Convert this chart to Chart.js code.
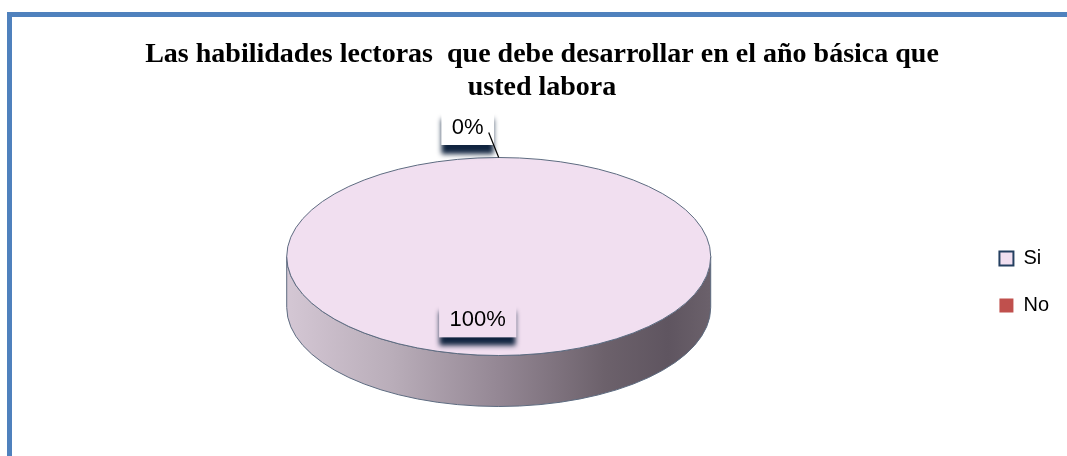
<!DOCTYPE html>
<html><head><meta charset="utf-8">
<script src="https://cdn.jsdelivr.net/npm/chart.js@4.4.0/dist/chart.umd.min.js"></script>
<style>
html,body{margin:0;padding:0;background:#fff;overflow:hidden;}
#wrap{position:relative;width:1067px;height:456px;overflow:hidden;background:#fff;}
#frame{position:absolute;left:7px;top:12px;width:1100px;height:520px;border:5px solid #4f81bd;box-sizing:border-box;}
canvas{position:absolute;left:0;top:0;}
</style></head><body>
<div id="wrap"><div id="frame"></div><canvas id="c" width="1067" height="456"></canvas></div>
<script>
// ---- data ----
const titleLines = ['Las habilidades lectoras  que debe desarrollar en el año básica que', 'usted labora'];
const categories = ['Si', 'No'];
const values = [100, 0];
const sliceColors = ['#f1dff0', '#c0504d'];
const legendBorders = ['#243f60', 'rgba(0,0,0,0)'];
const legendBorderWidths = [2, 0];

const total = values.reduce((a, b) => a + b, 0);
const percentLabels = values.map(v => Math.round(v / total * 100) + '%');

const pie3d = {
  id: 'pie3d',
  beforeDatasetsDraw(chart, args, o) {
    const arc = chart.getDatasetMeta(0).data[0];
    const p = arc.getProps(['x', 'y', 'outerRadius'], true);
    const cx = p.x, cy = p.y, R = p.outerRadius;
    const ry = R * o.tilt, top = cy - o.depth / 2;
    const ctx = chart.ctx;
    ctx.save();
    const g = ctx.createLinearGradient(cx - R, 0, cx + R, 0);
    o.sideStops.forEach(s => g.addColorStop(s[0], s[1]));
    ctx.beginPath();
    ctx.moveTo(cx - R, top);
    ctx.lineTo(cx - R, top + o.depth);
    ctx.ellipse(cx, top + o.depth, R, ry, 0, Math.PI, 0, true);
    ctx.lineTo(cx + R, top);
    ctx.ellipse(cx, top, R, ry, 0, 0, Math.PI, false);
    ctx.closePath();
    ctx.fillStyle = g;
    ctx.fill();
    ctx.lineWidth = 1;
    ctx.strokeStyle = o.edgeColor;
    ctx.stroke();
    ctx.restore();
    ctx.save();
    ctx.translate(cx, top);
    ctx.scale(1, o.tilt);
    ctx.translate(-cx, -cy);
  },
  afterDatasetsDraw(chart, args, o) {
    const ctx = chart.ctx;
    ctx.restore();
    const arcs = chart.getDatasetMeta(0).data;
    const p0 = arcs[0].getProps(['x', 'y', 'outerRadius'], true);
    const cx = p0.x, R = p0.outerRadius, ry = R * o.tilt, top = p0.y - o.depth / 2;
    // top face outline
    ctx.save();
    ctx.beginPath();
    ctx.ellipse(cx, top, R, ry, 0, 0, Math.PI * 2);
    ctx.lineWidth = 1;
    ctx.strokeStyle = o.edgeColor;
    ctx.stroke();
    ctx.restore();
    // labels
    ctx.save();
    ctx.font = o.labelFont;
    ctx.textAlign = 'center';
    ctx.textBaseline = 'middle';
    arcs.forEach((arc, i) => {
      const p = arc.getProps(['startAngle', 'endAngle'], true);
      const mid = (p.startAngle + p.endAngle) / 2;
      const text = percentLabels[i];
      const tw = ctx.measureText(text).width;
      const w = tw + o.boxPadX * 2, h = o.boxH;
      let lx, ly, fill, ex, ey, outside = (p.endAngle - p.startAngle) < 1e-6;
      if (outside) {
        ex = cx + Math.cos(mid) * R;
        ey = top + Math.sin(mid) * ry;
        lx = ex + o.outDx; ly = ey + o.outDy;
        fill = '#ffffff';
      } else {
        lx = cx + Math.cos(mid) * R * o.inFrac + o.inDx;
        ly = top + Math.sin(mid) * ry * o.inFrac;
        fill = sliceColors[i];
      }
      ctx.save();
      ctx.shadowColor = o.shadowColor;
      ctx.shadowBlur = 5;
      ctx.shadowOffsetY = 9;
      ctx.fillStyle = fill;
      ctx.fillRect(lx - w / 2, ly - h / 2, w, h);
      ctx.restore();
      ctx.fillStyle = '#000';
      ctx.fillText(text, lx, ly);
      if (outside) {
        ctx.beginPath();
        ctx.moveTo(ex + o.leadDx, ey + o.leadDy);
        ctx.lineTo(ex, ey);
        ctx.lineWidth = 1.2;
        ctx.strokeStyle = '#000';
        ctx.stroke();
      }
    });
    ctx.restore();
  }
};

new Chart(document.getElementById('c'), {
  type: 'pie',
  data: {
    labels: categories,
    datasets: [{
      data: values,
      backgroundColor: sliceColors,
      borderWidth: 0,
      radius: 212,
      clip: false
    }]
  },
  options: {
    responsive: false,
    devicePixelRatio: 1,
    animation: false,
    events: [],
    layout: { padding: { top: 25, left: 25, right: 8, bottom: 0 } },
    plugins: {
      tooltip: { enabled: false },
      title: {
        display: true,
        text: titleLines,
        color: '#000',
        font: { family: '"Liberation Serif", "Times New Roman", serif', size: 28, weight: 'bold', lineHeight: 33 / 28 },
        padding: { top: 13, bottom: 4 }
      },
      legend: {
        position: 'right',
        align: 'center',
        fullSize: false,
        labels: {
          color: '#000',
          font: { family: '"Liberation Sans", Arial, sans-serif', size: 20 },
          boxWidth: 14,
          boxHeight: 14,
          padding: 27,
          generateLabels(chart) {
            const items = Chart.overrides.pie.plugins.legend.labels.generateLabels(chart);
            items.forEach((it, i) => {
              it.strokeStyle = legendBorders[i];
              it.lineWidth = legendBorderWidths[i];
              it.hidden = false;
            });
            return items;
          }
        }
      },
      pie3d: {
        tilt: 99 / 212,
        depth: 51,
        edgeColor: '#5d6b80',
        sideStops: [[0, '#d4c7d4'], [0.25, '#b9adb9'], [0.5, '#948794'], [0.75, '#6c616b'], [0.9, '#5f5560'], [1, '#6b616b']],
        labelFont: '22px "Liberation Sans", Arial, sans-serif',
        boxPadX: 10.5,
        boxH: 35,
        inFrac: 0.64,
        inDx: -21,
        outDx: -31,
        outDy: -30,
        leadDx: -10,
        leadDy: -25,
        shadowColor: 'rgba(16,36,63,1)'
      }
    }
  },
  plugins: [pie3d]
});
</script>
</body></html>
